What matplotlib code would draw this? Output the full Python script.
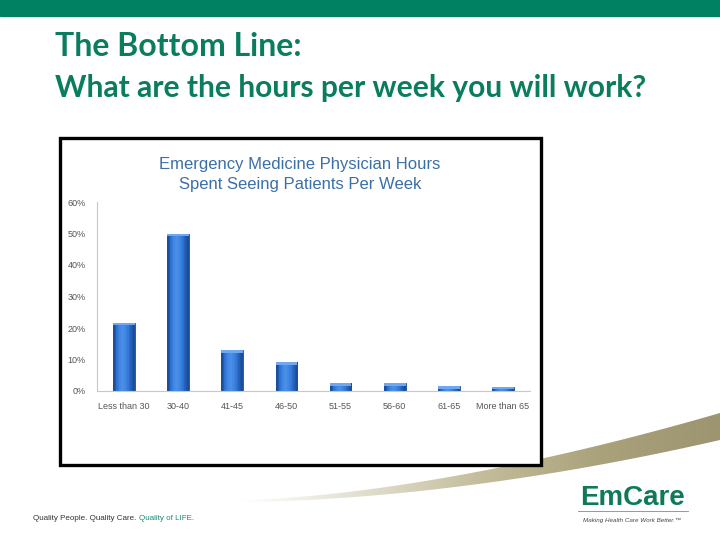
import numpy as np
import matplotlib.pyplot as plt
from matplotlib.patches import Rectangle, Polygon
from matplotlib.colors import LinearSegmentedColormap

categories = ['Less than 30', '30-40', '41-45', '46-50', '51-55', '56-60', '61-65', 'More than 65']
values = [21.7, 50.0, 13.0, 9.2, 2.6, 2.4, 1.6, 1.4]
yticks = [0, 10, 20, 30, 40, 50, 60]

green = '#0a7d5f'
fig = plt.figure(figsize=(7.2, 5.4), dpi=100)

# top band
fig.patches.append(Rectangle((0, 1 - 16/540), 1, 16/540, transform=fig.transFigure,
                             color='#008262', zorder=0))
fig.text(55/720, 1 - 47/540, 'The Bottom Line:', fontsize=23, fontweight='bold',
         color=green, family='Lato', va='center')
fig.text(55/720, 1 - 88/540, 'What are the hours per week you will work?', fontsize=21.6,
         fontweight='bold', color=green, family='Lato', va='center')

# decorative swoosh at the bottom
bg = fig.add_axes([0, 0, 1, 1], zorder=-1)
bg.set_xlim(0, 720)
bg.set_ylim(540, 0)
bg.axis('off')
xs = np.linspace(240, 720, 200)
t = (xs - 240) / 480
upper = 500 - 87 * t ** 1.6
lower = 500 - 60 * t ** 1.8 + 2 * (1 - t)
swoosh = Polygon(np.column_stack([np.r_[xs, xs[::-1]], np.r_[upper, lower[::-1]]]),
                 closed=True, facecolor='none', edgecolor='none', transform=bg.transData)
bg.add_patch(swoosh)
fade = LinearSegmentedColormap.from_list('f', ['#ffffff', '#e2dfcf', '#c4bd9c', '#aaa27b', '#9d9570'])
sim = bg.imshow(np.linspace(0, 1, 256)[None, :], cmap=fade, aspect='auto',
                extent=[240, 720, 520, 400], interpolation='bilinear')
sim.set_clip_path(swoosh)
bg.set_xlim(0, 720)
bg.set_ylim(540, 0)

# chart frame
fig.patches.append(Rectangle((60/720, 1 - 465/540), 481/720, 327/540, transform=fig.transFigure,
                             fill=True, facecolor='white', edgecolor='black', linewidth=2.4,
                             zorder=1))
fig.text(300/720, 1 - 164/540, 'Emergency Medicine Physician Hours', fontsize=12,
         color='#3b6fa8', ha='center', va='center', family='Liberation Sans', zorder=3)
fig.text(300/720, 1 - 185/540, 'Spent Seeing Patients Per Week', fontsize=12,
         color='#3b6fa8', ha='center', va='center', family='Liberation Sans', zorder=3)

ax = fig.add_axes([97/720, 1 - 391/540, 433/720, 189/540], zorder=2)
ax.patch.set_alpha(0)
x = np.arange(len(categories))
bars = ax.bar(x, values, width=0.4, color='#2f70cc', edgecolor='#1c4e96', linewidth=0.6)
grad = np.array([[0.0, 0.5, 0.85, 1.0, 0.85, 0.6, 0.25, 0.0]])
cmap = LinearSegmentedColormap.from_list('b', ['#1b4f9c', '#2f74d6', '#4a8fe8'])
for b in bars:
    x0, w, h = b.get_x(), b.get_width(), b.get_height()
    im = ax.imshow(grad, cmap=cmap, aspect='auto', extent=[x0, x0 + w, 0, h], zorder=2)
    im.set_clip_path(b)
    ax.add_patch(Rectangle((x0, h - 0.9), w, 0.9, color='#6fa8ee', lw=0, zorder=3))
ax.set_xlim(-0.5, 7.5)
ax.set_ylim(0, 60)
ax.set_yticks(yticks)
ax.set_yticklabels([f'{v}%' for v in yticks])
ax.set_xticks(x)
ax.set_xticklabels(categories)
ax.tick_params(length=0, labelsize=6.5, labelcolor='#555555', pad=8)
for lbl in ax.get_xticklabels() + ax.get_yticklabels():
    lbl.set_family('Liberation Sans')
for s in ['top', 'right']:
    ax.spines[s].set_visible(False)
ax.spines['left'].set_color('#c8c8c8')
ax.spines['bottom'].set_color('#c8c8c8')

# footer
t1 = fig.text(33/720, 1 - 519/540, 'Quality People. Quality Care. ', fontsize=5.8,
              color='#333333', family='Liberation Sans', va='center')
fig.canvas.draw()
ext = t1.get_window_extent()
fig.text(ext.x1 / 720, 1 - 519/540, 'Quality of LIFE.', fontsize=5.8, color='#1a8a78',
         family='Liberation Sans', va='center')
fig.text(632/720, 1 - 498/540, 'EmCare', fontsize=20, fontweight='bold', color='#0f7a5a',
         ha='center', va='center', family='Liberation Sans')
bg.plot([578, 688], [511, 511], color='#888888', lw=0.6)
fig.text(632/720, 1 - 520/540, 'Making Health Care Work Better.\u2122', fontsize=4.5,
         style='italic', color='#444444', ha='center', va='center',
         family='Liberation Sans')

fig.savefig('out.png', dpi=100)
